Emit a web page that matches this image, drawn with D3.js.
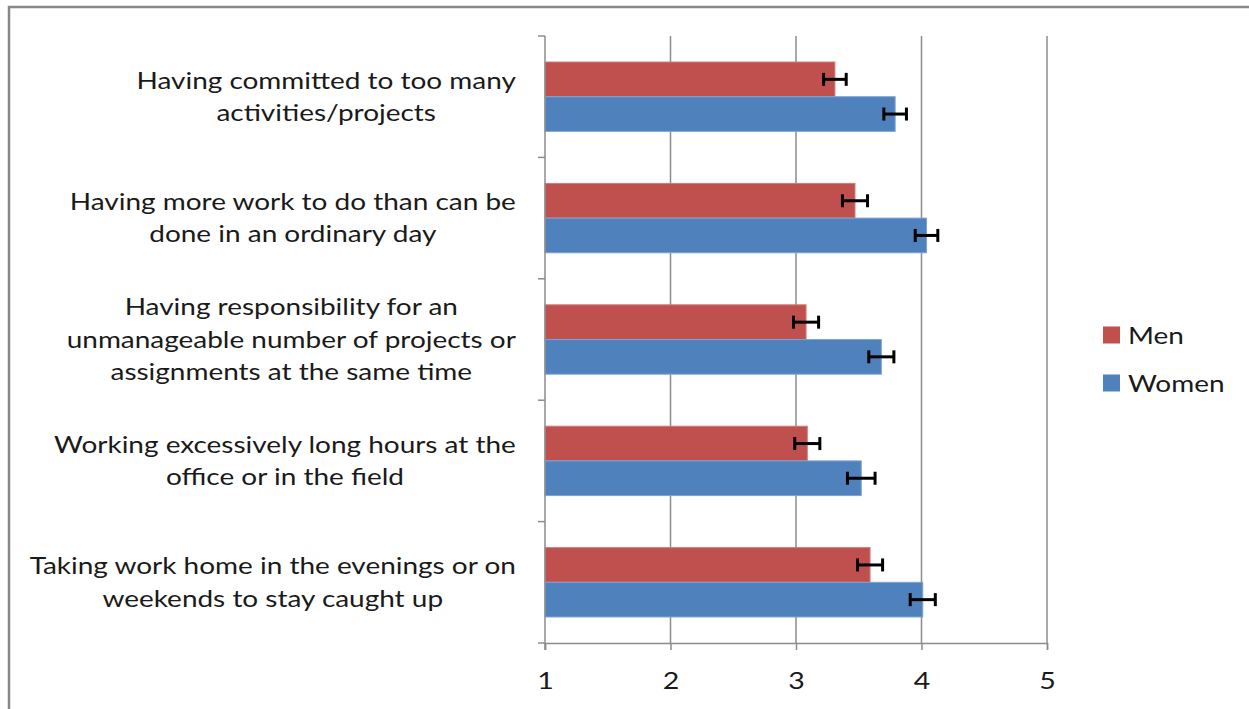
<!DOCTYPE html>
<html>
<head>
<meta charset="utf-8">
<script src="https://cdn.jsdelivr.net/npm/d3@7"></script>
<style>
  html, body { margin: 0; padding: 0; background: #fff; }
  svg { display: block; }
  text { font-family: Lato, "Open Sans", sans-serif; fill: #1a1a1a; }
</style>
</head>
<body>
<svg id="chart" width="1249" height="709"></svg>
<script>
// ---- data ----
const categories = [
  ["Having committed to too many", "activities/projects"],
  ["Having more work to do than can be", "done in an ordinary day"],
  ["Having responsibility for an", "unmanageable number of projects or", "assignments at the same time"],
  ["Working excessively long hours at the", "office or in the field"],
  ["Taking work home in the evenings or on", "weekends to stay caught up"]
];
const seriesNames = ["Men", "Women"];
const menValues   = [3.31, 3.47, 3.08, 3.09, 3.59];
const womenValues = [3.79, 4.04, 3.68, 3.52, 4.01];
const menErrors   = [0.09, 0.10, 0.10, 0.10, 0.10];
const womenErrors = [0.09, 0.09, 0.10, 0.11, 0.10];
const xTicks = [1, 2, 3, 4, 5];

const colors = { Men: "#C0504D", Women: "#4F81BD" };
const stretch = 1.19; // horizontal text stretch seen in reference

const svg = d3.select("#chart");
const W = 1249, H = 709;

// outer frame
svg.append("rect")
  .attr("x", 9).attr("y", 7).attr("width", W + 20).attr("height", H + 20)
  .attr("fill", "none").attr("stroke", "#878787").attr("stroke-width", 2.5);

const plot = { left: 545, right: 1047, top: 36, bottom: 643 };

const x = d3.scaleLinear().domain([1, 5]).range([plot.left, plot.right]);
const catIdx = categories.map((d, i) => i);
const y = d3.scaleBand().domain(catIdx).range([plot.top, plot.bottom]).padding(0);
const y1 = d3.scaleBand().domain(seriesNames).range([0, y.bandwidth()])
  .paddingInner(0).paddingOuter(0.75);

const data = catIdx.map(i => ({
  i,
  values: [
    { s: "Men", v: menValues[i], e: menErrors[i] },
    { s: "Women", v: womenValues[i], e: womenErrors[i] }
  ]
}));

// gridlines
svg.append("g").selectAll("line")
  .data(xTicks.slice(1))
  .join("line")
  .attr("x1", d => x(d)).attr("x2", d => x(d))
  .attr("y1", plot.top).attr("y2", plot.bottom)
  .attr("stroke", "#8c8c8c").attr("stroke-width", 1.5);

// bars
const groups = svg.append("g").selectAll("g")
  .data(data).join("g")
  .attr("transform", d => `translate(0,${y(d.i)})`);

groups.selectAll("rect")
  .data(d => d.values).join("rect")
  .attr("x", x(1))
  .attr("y", d => y1(d.s))
  .attr("width", d => x(d.v) - x(1))
  .attr("height", y1.bandwidth())
  .attr("fill", d => colors[d.s])
  .attr("stroke", d => d.s === "Men" ? "#d07a77" : "#7ea3d3")
  .attr("stroke-width", 1);

// error bars
const capH = 13;
const eb = groups.selectAll("g.err")
  .data(d => d.values).join("g").attr("class", "err")
  .attr("stroke", "#000").attr("stroke-width", 3);
eb.append("line")
  .attr("x1", d => x(d.v - d.e)).attr("x2", d => x(d.v + d.e))
  .attr("y1", d => y1(d.s) + y1.bandwidth() / 2)
  .attr("y2", d => y1(d.s) + y1.bandwidth() / 2);
eb.append("line")
  .attr("x1", d => x(d.v - d.e)).attr("x2", d => x(d.v - d.e))
  .attr("y1", d => y1(d.s) + y1.bandwidth() / 2 - capH / 2)
  .attr("y2", d => y1(d.s) + y1.bandwidth() / 2 + capH / 2);
eb.append("line")
  .attr("x1", d => x(d.v + d.e)).attr("x2", d => x(d.v + d.e))
  .attr("y1", d => y1(d.s) + y1.bandwidth() / 2 - capH / 2)
  .attr("y2", d => y1(d.s) + y1.bandwidth() / 2 + capH / 2);

// x axis
const xAxis = svg.append("g")
  .attr("transform", `translate(0,${plot.bottom})`)
  .call(d3.axisBottom(x).tickValues(xTicks).tickFormat(d3.format("d")).tickSize(7).tickPadding(14));
xAxis.select(".domain").attr("stroke", "#8c8c8c").attr("stroke-width", 1.5);
xAxis.selectAll(".tick line").attr("stroke", "#8c8c8c").attr("stroke-width", 1.5);
xAxis.selectAll(".tick text")
  .attr("font-size", 24).attr("font-family", "Lato, sans-serif").attr("fill", "#1a1a1a")
  .attr("dy", null).attr("y", null)
  .attr("dominant-baseline", "central")
  .attr("transform", `translate(0,37) scale(${stretch},1)`);

// y axis line and boundary ticks
const yAxisG = svg.append("g");
yAxisG.append("line")
  .attr("x1", plot.left).attr("x2", plot.left)
  .attr("y1", plot.top).attr("y2", plot.bottom + 7)
  .attr("stroke", "#8c8c8c").attr("stroke-width", 1.5);
const boundaries = catIdx.map(i => y(i)).concat([plot.bottom]);
yAxisG.selectAll("line.tk")
  .data(boundaries).join("line").attr("class", "tk")
  .attr("x1", plot.left - 7).attr("x2", plot.left)
  .attr("y1", d => d).attr("y2", d => d)
  .attr("stroke", "#8c8c8c").attr("stroke-width", 1.5);

// category labels (multi-line, centered lines, block right-aligned)
const labelRight = 516;
const lineH = 32.5;
const labels = svg.append("g").attr("font-size", 23.5);
data.forEach(d => {
  const lines = categories[d.i];
  const g = labels.append("g");
  const texts = lines.map((ln, k) => g.append("text")
    .attr("text-anchor", "middle")
    .attr("dominant-baseline", "central")
    .datum(y(d.i) + y.bandwidth() / 2 + (k - (lines.length - 1) / 2) * lineH)
    .text(ln));
  const maxW = d3.max(texts, t => t.node().getComputedTextLength()) * stretch;
  texts.forEach(t => t.attr("transform", yy => `translate(${labelRight - maxW / 2},${yy - 1}) scale(${stretch},1)`));
});

// legend
const legend = svg.append("g").attr("transform", "translate(1103,335)");
const li = legend.selectAll("g").data(seriesNames).join("g")
  .attr("transform", (d, i) => `translate(0,${i * 48})`);
li.append("rect")
  .attr("x", 0).attr("y", -8.5).attr("width", 17).attr("height", 17)
  .attr("fill", d => colors[d]);
li.append("text")
  .attr("dominant-baseline", "central")
  .attr("font-size", 23.5)
  .attr("transform", `translate(25,0) scale(${stretch},1)`)
  .text(d => d);
</script>
</body>
</html>
